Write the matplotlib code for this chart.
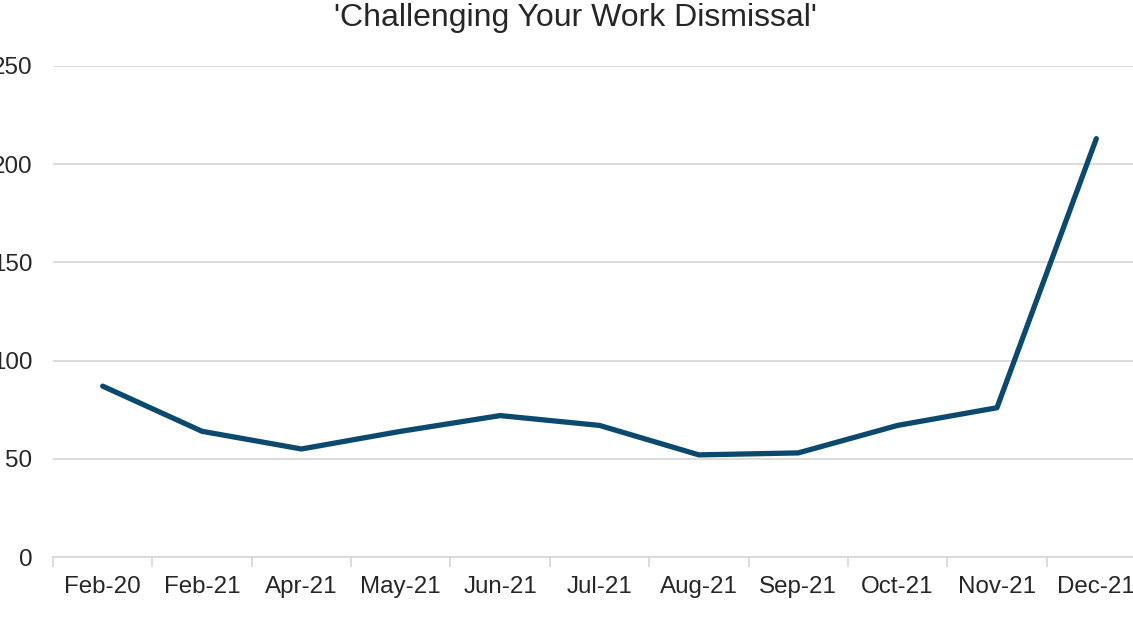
import matplotlib
matplotlib.use("Agg")
import matplotlib.pyplot as plt
import numpy as np

plt.rcParams['font.family'] = ['Liberation Sans', 'DejaVu Sans']

months = ["Feb-20", "Feb-21", "Apr-21", "May-21", "Jun-21", "Jul-21",
          "Aug-21", "Sep-21", "Oct-21", "Nov-21", "Dec-21"]
searches = [87, 64, 55, 64, 72, 67, 52, 53, 67, 76, 213]
y_ticks = [0, 50, 100, 150, 200, 250]

W, H = 1133, 620
fig = plt.figure(figsize=(W / 100, H / 100), dpi=100)
left, right, bottom, top = 53, 1146, 620 - 557, 620 - 66
ax = fig.add_axes([left / W, bottom / H, (right - left) / W, (top - bottom) / H])

x = np.arange(len(months))
ax.plot(x, searches, color="#0b4a6e", linewidth=3.8, solid_capstyle="round",
        solid_joinstyle="round", zorder=3)

ax.set_xlim(-0.5, len(months) - 0.5)
ax.set_ylim(0, 250)
ax.set_yticks(y_ticks)
ax.set_yticklabels([str(v) for v in y_ticks])
ax.set_xticks(x)
ax.set_xticklabels(months)
ax.set_xticks(np.arange(len(months) + 1) - 0.5, minor=True)

ax.grid(axis="y", color="#d9d9d9", linewidth=1.3, zorder=0)
for s in ["top", "right", "left"]:
    ax.spines[s].set_visible(False)
ax.spines["bottom"].set_color("#d9d9d9")
ax.spines["bottom"].set_linewidth(1.3)

ax.tick_params(axis="y", length=0, pad=15, labelsize=17.4, labelcolor="#262626")
ax.tick_params(axis="x", which="major", length=0, pad=14, labelsize=17.4,
               labelcolor="#262626")
ax.tick_params(axis="x", which="minor", length=7, width=1.3, color="#d9d9d9")

fig.text(575 / W, 1 - 18 / H, "'Challenging Your Work Dismissal'",
         ha="center", va="center", fontsize=23, color="#262626")

fig.savefig("out.png", dpi=100)
